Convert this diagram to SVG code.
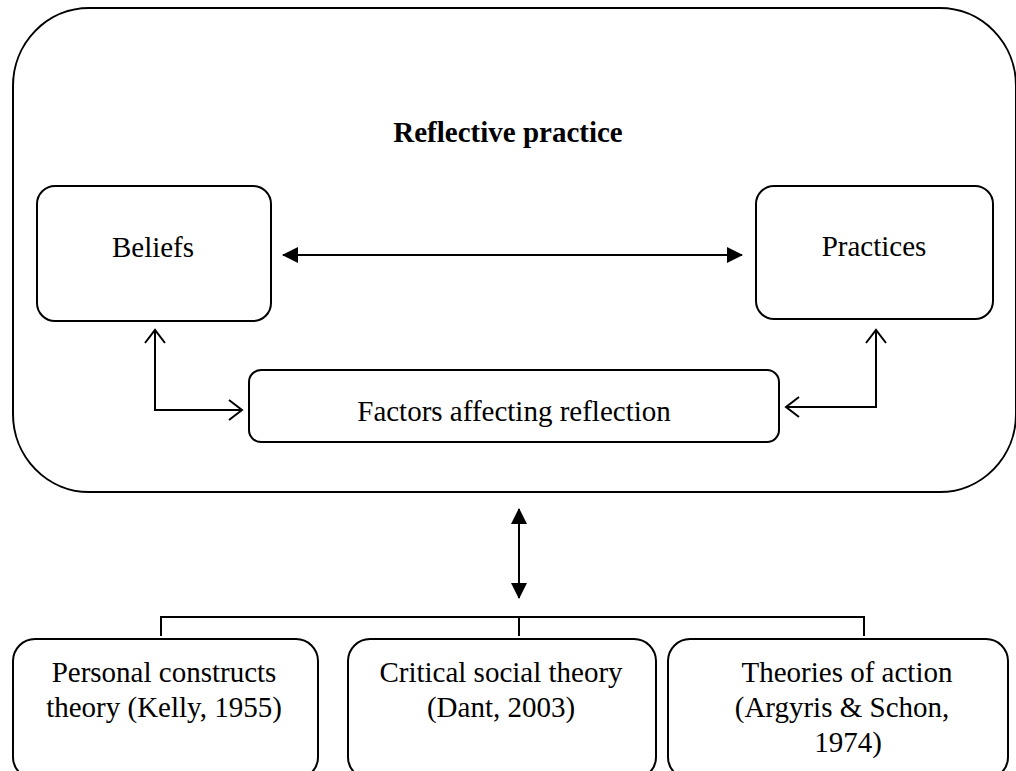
<svg xmlns="http://www.w3.org/2000/svg" width="1016" height="771" viewBox="0 0 1016 771">
<defs>
<style>
.box{fill:#fff;stroke:#000;stroke-width:2}
.c{fill:none;stroke:#000;stroke-width:2}
</style>
<marker id="fa" viewBox="0 0 16 16" refX="15" refY="8" markerWidth="16" markerHeight="16" markerUnits="userSpaceOnUse" orient="auto-start-reverse"><path d="M0,0 L16,8 L0,16 z" fill="#000"/></marker>
<marker id="oa" viewBox="0 0 16 22" refX="14" refY="11" markerWidth="16" markerHeight="22" markerUnits="userSpaceOnUse" orient="auto-start-reverse"><path d="M1,1 L14,11 L1,21" fill="none" stroke="#000" stroke-width="2"/></marker>
</defs>
<rect width="1016" height="771" fill="#fff"/>
<g font-family="Liberation Serif, serif" font-size="29" text-anchor="middle" fill="#000">
<g id="reflective-practice">
<rect class="box" x="13" y="8" width="1003" height="484" rx="76" ry="78"/>
<text x="508" y="142" font-family="Liberation Serif" font-weight="bold">Reflective practice</text>
</g>
<g id="beliefs">
<rect class="box" x="37" y="186" width="234" height="135" rx="18"/>
<text x="153" y="257" font-family="Liberation Serif">Beliefs</text>
</g>
<g id="practices">
<rect class="box" x="756" y="186" width="237" height="133" rx="18"/>
<text x="874" y="256" font-family="Liberation Serif">Practices</text>
</g>
<g id="factors">
<rect class="box" x="249" y="370" width="530" height="72" rx="12"/>
<text x="514" y="421" font-family="Liberation Serif">Factors affecting reflection</text>
</g>
<g id="personal-constructs">
<rect class="box" x="13" y="639" width="305" height="140" rx="22"/>
<text x="164" y="682" font-family="Liberation Serif">Personal constructs</text>
<text x="164" y="717" font-family="Liberation Serif">theory (Kelly, 1955)</text>
</g>
<g id="critical-social">
<rect class="box" x="348" y="639" width="308" height="140" rx="22"/>
<text x="501" y="682" font-family="Liberation Serif">Critical social theory</text>
<text x="501" y="717" font-family="Liberation Serif">(Dant, 2003)</text>
</g>
<g id="theories-action">
<rect class="box" x="668" y="639" width="340" height="140" rx="22"/>
<text x="847" y="682" font-family="Liberation Serif">Theories of action</text>
<text x="842" y="717" font-family="Liberation Serif">(Argyris &amp; Schon,</text>
<text x="848" y="752" font-family="Liberation Serif">1974)</text>
</g>
</g>
<g id="connectors">
<line class="c" x1="283" y1="255" x2="742" y2="255" marker-start="url(#fa)" marker-end="url(#fa)"/>
<polyline class="c" points="155,330 155,410 242,410" marker-start="url(#oa)" marker-end="url(#oa)"/>
<polyline class="c" points="876,330 876,407 786,407" marker-start="url(#oa)" marker-end="url(#oa)"/>
<line class="c" x1="519" y1="509" x2="519" y2="598" marker-start="url(#fa)" marker-end="url(#fa)"/>
<polyline class="c" points="161,636 161,617 864,617 864,636"/>
<line class="c" x1="519" y1="617" x2="519" y2="636"/>
</g>
</svg>
